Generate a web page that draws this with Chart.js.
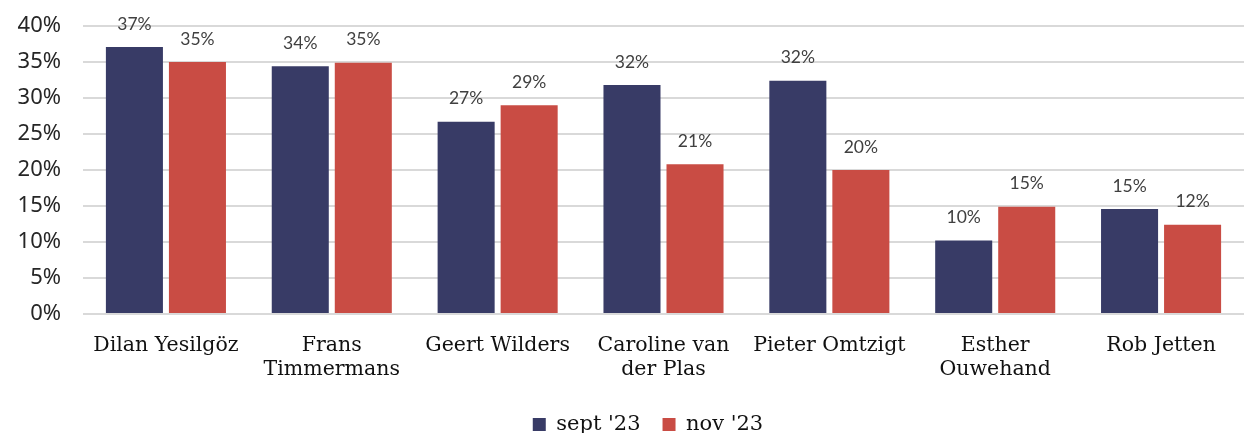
<!DOCTYPE html>
<html>
<head>
<meta charset="utf-8">
<script src="https://cdn.jsdelivr.net/npm/chart.js@4.4.0/dist/chart.umd.min.js"></script>
<style>
  html, body { margin: 0; padding: 0; background: #fff; }
  #wrap { width: 1244px; height: 433px; }
</style>
</head>
<body>
<div id="wrap"><canvas id="pollChart"></canvas></div>
<script>
// Data
const categories = [
    'Dilan Yesilgöz',
    ['Frans', 'Timmermans'],
    'Geert Wilders',
    ['Caroline van', 'der Plas'],
    'Pieter Omtzigt',
    ['Esther', 'Ouwehand'],
    'Rob Jetten'
];
const seriesNames = ["sept '23", "nov '23"];
const septValues = [37.1, 34.4, 26.7, 31.8, 32.4, 10.2, 14.6];
const novValues = [35.0, 34.9, 29.0, 20.8, 20.0, 14.9, 12.4];
const yTicks = [0, 5, 10, 15, 20, 25, 30, 35, 40];

const navy = '#383b66';
const red = '#c94c44';

// Value labels above each bar
const barLabels = {
    id: 'barLabels',
    afterDatasetsDraw(chart) {
        const ctx = chart.ctx;
        ctx.save();
        ctx.font = '17.5px Lato';
        ctx.fillStyle = '#404040';
        ctx.textAlign = 'center';
        ctx.textBaseline = 'middle';
        chart.data.datasets.forEach((ds, i) => {
            chart.getDatasetMeta(i).data.forEach((bar, j) => {
                ctx.fillText(Math.round(ds.data[j]) + '%', bar.x, bar.y - 23);
            });
        });
        ctx.restore();
    }
};

// Nudge the legend a bit to the right, like the original
const legendShift = {
    id: 'legendShift',
    afterLayout(chart) {
        if (chart.legend) {
            chart.legend.left += 24;
            chart.legend.right += 24;
        }
    }
};

new Chart(document.getElementById('pollChart'), {
    type: 'bar',
    data: {
        labels: categories,
        datasets: [
            { label: seriesNames[0], data: septValues, backgroundColor: navy },
            { label: seriesNames[1], data: novValues, backgroundColor: red }
        ]
    },
    options: {
        responsive: true,
        maintainAspectRatio: false,
        animation: false,
        layout: { padding: { top: 26, right: -4, left: 0, bottom: -12 } },
        datasets: {
            bar: { categoryPercentage: 0.76, barPercentage: 0.905 }
        },
        plugins: {
            legend: {
                position: 'bottom',
                labels: {
                    boxWidth: 13,
                    boxHeight: 13,
                    padding: 22,
                    color: '#111',
                    font: { family: 'DejaVu Serif', size: 21 }
                }
            },
            tooltip: { enabled: false }
        },
        scales: {
            x: {
                grid: { display: false },
                border: { display: false },
                ticks: {
                    color: '#111',
                    padding: 11,
                    maxRotation: 0,
                    autoSkip: false,
                    font: { family: 'DejaVu Serif', size: 20.5, lineHeight: 1.2 }
                },
                afterFit(scale) {
                    scale.height = 78;
                    scale.paddingLeft = 0;
                    scale.paddingRight = 0;
                }
            },
            y: {
                min: 0,
                max: 40,
                afterBuildTicks(scale) { scale.ticks = yTicks.map(v => ({ value: v })); },
                grid: { color: '#d9d9d9', lineWidth: 2, drawTicks: false },
                border: { display: false },
                ticks: {
                    color: '#262626',
                    padding: 22,
                    font: { family: 'Noto Sans', size: 22 },
                    callback: v => v + '%'
                },
                afterFit(scale) {
                    scale.width = 83;
                    scale.paddingTop = 0;
                    scale.paddingBottom = 0;
                }
            }
        }
    },
    plugins: [barLabels, legendShift]
});
</script>
</body>
</html>
